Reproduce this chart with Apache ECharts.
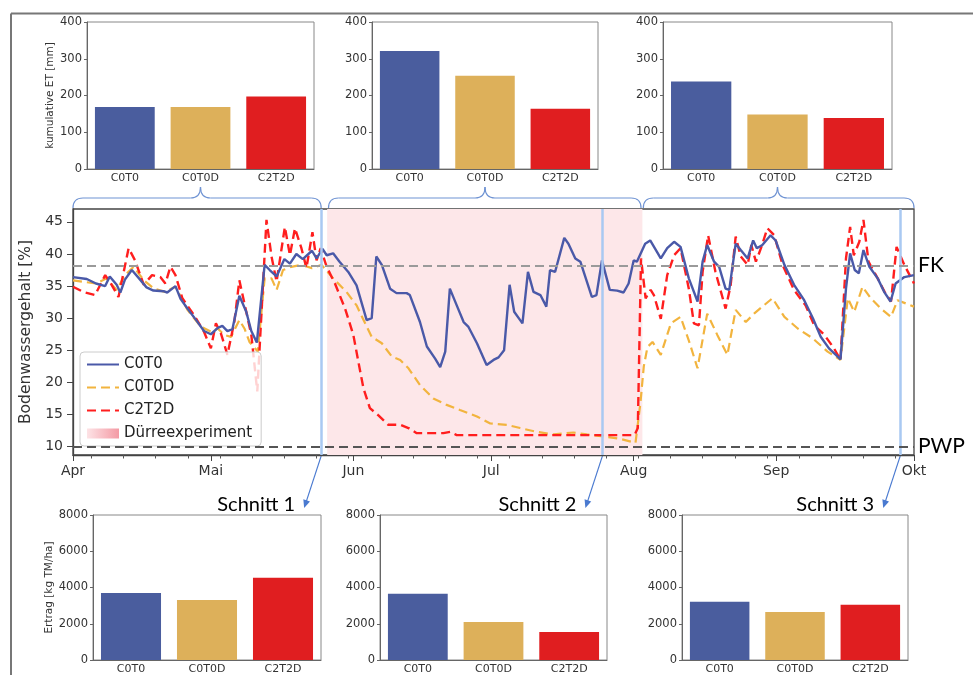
<!DOCTYPE html>
<html><head><meta charset="utf-8">
<script src="https://cdn.jsdelivr.net/npm/echarts@6/dist/echarts.min.js"></script>
<style>html,body{margin:0;padding:0;background:#fff}#c{width:973px;height:675px}</style>
</head><body><div id="c"></div><script>
// ---------- data ----------
const categories = ['C0T0', 'C0T0D', 'C2T2D'];
const etPeriod1 = [169, 169, 197];
const etPeriod2 = [321, 254, 164];
const etPeriod3 = [238, 148, 139];
const yieldCut1 = [3690, 3310, 4540];
const yieldCut2 = [3650, 2090, 1545];
const yieldCut3 = [3220, 2650, 3055];

// days since 1 April (2021)
const c0t0Days = [0,3,5,7,8,9.5,10.3,11.3,12.8,14.6,16,17.5,19.7,20.5,22.3,23.4,24.9,27,28.5,30,31.5,32.5,33.6,34.7,36.2,37.7,38.8,40,41.7,42.8,44.3,46,47.2,48.6,50,52,53,54.3,55.2,56.6,58,59.9,61.7,63.9,65,66,67.2,69,70.4,72.6,73.3,75.5,77,78.8,79.9,81,82,83.5,85,86,87.9,90,91.5,92.6,93.8,95,96,97.3,97.8,99,100.2,101.7,103,103.8,104.9,106.9,107.8,109.3,110.4,112.9,113.9,115.1,116.8,118.4,119.8,120.9,122,122.7,124.5,125.6,127.9,129.3,130.8,132.2,134,135.9,137,138,139.5,140.6,142,142.8,144.2,145.3,146.8,148,148.8,150,151.8,152.9,154.8,156.9,159.1,161,162.7,164.5,166,167,168.2,169.1,170.1,171,172,173.3,175.1,176.5,177.9,179,180.9,183];
const c0t0Vals = [36.4,36.1,35.4,35.0,36.5,35.2,34.0,36.0,37.5,36.0,34.8,34.3,34.2,34.0,35.0,33.0,31.5,29.5,28.0,27.5,28.5,28.8,28.0,28.3,33.5,31.0,28.0,26.2,38.3,37.5,36.5,39.2,38.5,40.0,39.2,40.5,39.3,40.8,39.8,40.1,38.8,37.2,35.1,29.7,30.0,39.6,38.3,34.6,33.9,33.9,33.6,29.4,25.6,23.7,22.4,24.8,34.6,32.0,29.4,28.7,26.1,22.7,23.5,23.9,25.0,35.2,31.0,29.7,29.2,37.2,34.1,33.6,31.8,37.5,37.2,42.5,41.6,39.3,38.8,33.3,33.6,39.0,34.4,34.3,34.0,35.4,39.0,38.8,41.6,42.1,39.3,40.9,41.9,41.1,36.2,32.6,38.8,41.4,38.8,38.0,34.6,34.4,41.6,40.6,39.3,42.1,40.9,41.4,42.9,42.1,38.3,35.2,32.8,30.0,27.1,25.3,24.3,23.6,34.6,40.1,37.5,37.0,40.6,38.0,36.2,34.1,32.6,35.4,36.4,36.7];

const c0t0dDays = [0,3,5,7.3,9.5,11.3,13.2,15.4,17.6,20,22.3,24.9,27.8,30,31.5,32.9,34.4,36.2,37.3,38.4,40.2,41.7,43.2,44.3,45.7,47.5,49.7,52,54.1,56.6,59.5,61.7,63.9,65,67.2,69.4,71.2,73,75.5,78.4,81.3,84.2,87.9,90.8,94.4,97.3,100.9,104.6,108.9,111.8,115.5,119.1,122.4,122.8,123.5,124.2,125,126.1,127.9,130.1,132.2,134.1,135.9,138,140.2,142.4,144.2,146.4,148.2,150,152.2,154.8,157.7,160.9,164.2,167,168.6,170,171.8,173.6,175.8,178,179.4,183];
const c0t0dVals = [35.9,35.6,35.4,36.2,34.4,36.7,38.0,35.9,34.6,34.1,34.9,31.3,28.7,27.9,28.4,27.4,27.1,29.7,28.4,26.3,24.8,36.2,36.2,34.4,37.5,38.0,38.3,37.8,38.3,36.2,34.1,32.0,28.7,27.1,26.1,24.0,23.5,22.2,19.6,17.5,16.5,15.7,14.7,13.6,13.4,12.9,12.3,11.9,12.2,11.9,11.6,11.2,10.6,10.9,17.0,22.5,25.5,26.3,24.3,29.2,30.2,26.3,22.2,30.7,27.4,24.3,31.3,29.4,30.7,31.8,33.1,30.2,28.4,26.9,24.8,23.5,33.1,31.0,34.9,33.1,31.5,30.2,32.8,31.8];

const c2t2dDays = [0,2.2,4.8,7,8.4,9.9,12.1,13.5,15.4,17.2,19,20.1,21.2,22.3,23.8,26.3,28.5,30,31.1,32.2,33.6,35.1,36.2,37.7,38.8,40.1,42.1,43.2,44.3,46.1,47.2,48.3,49.7,50.8,52.1,53,53.9,55.2,57,59.2,61,62.1,63.2,64.6,66.4,68.6,71.2,73,74.8,80.6,82.1,83.5,97.3,111.8,122.2,122.9,123.6,124.6,125.7,126.4,127.9,129.3,130.8,132.2,134,135.1,136.2,137,138.2,139.8,142,143.1,144.2,145.3,146.8,147.6,148.6,149.7,151.1,152.6,154.4,156.9,159.4,161.3,163.5,165.6,167,168.2,169.1,169.9,171.1,172,173.1,175.1,176.6,178,179.2,180.9,183];
const c2t2dVals = [34.9,34.1,33.6,36.7,35.2,33.3,40.9,39.0,35.2,36.7,36.4,35.4,38.0,36.7,33.1,30.5,27.9,25.3,29.2,27.6,24.3,29.4,35.9,31.0,27.4,18.6,45.3,39.6,35.7,44.2,39.8,44.0,40.9,37.8,43.4,39.0,40.9,38.0,35.4,31.5,27.4,23.2,19.1,16.0,14.9,13.4,13.4,12.9,12.1,12.1,12.3,11.8,11.8,11.8,11.8,12.9,39.3,33.1,34.4,33.6,29.9,36.7,39.8,40.9,34.6,29.2,28.9,37.2,42.9,37.2,31.5,35.1,42.7,39.6,38.3,41.4,38.8,40.9,44.0,42.9,38.3,34.4,32.0,28.9,27.4,25.3,23.5,39.3,44.2,39.8,41.9,45.3,38.8,36.2,34.1,32.6,41.1,38.3,35.4];

const monthTickDays = [0, 30, 61, 91, 122, 153, 183];
const monthLabels = ['Apr', 'Mai', 'Jun', 'Jul', 'Aug', 'Sep', 'Okt'];
const weekTickDays = [4,11,18,25,32,39,46,53,60,67,74,81,88,95,102,109,116,123,130,137,144,151,158,165,172,179];
const mainYTicks = [10, 15, 20, 25, 30, 35, 40, 45];
const droughtStart = 55.3, droughtEnd = 123.9;
const schnittDays = [54, 115.2, 180];
const schnittLabels = ['Schnitt 1', 'Schnitt 2', 'Schnitt 3'];
const fkValue = 38.2, pwpValue = 10;

// ---------- styling ----------
const barColors = ['#4a5d9e', '#ddb05a', '#e01e20'];
const axisTxt = { color: '#333', fontFamily: 'DejaVu Sans' };
const zip = (a, b) => a.map((d, i) => [d, b[i]]);

const chart = echarts.init(document.getElementById('c'), null, { renderer: 'canvas' });

const grids = [
  { left: 73, top: 209, width: 841, height: 246 },
  { left: 87, top: 22, width: 227, height: 147 },
  { left: 372, top: 22, width: 226, height: 147 },
  { left: 663, top: 22, width: 229, height: 147 },
  { left: 93, top: 515, width: 228, height: 147 },
  { left: 380, top: 515, width: 227, height: 147 },
  { left: 682, top: 515, width: 226, height: 147 }
];
grids.forEach((g, i) => { g.show = true; g.borderColor = i === 0 ? '#444' : '#888'; g.borderWidth = i === 0 ? 1.3 : 1; g.backgroundColor = 'transparent'; });

const xAxes = [
  { gridIndex: 0, type: 'value', min: 0, max: 183,
    axisLine: { lineStyle: { color: '#444', width: 1.3 } },
    axisTick: { customValues: monthTickDays, length: 6, lineStyle: { color: '#444' } },
    axisLabel: { customValues: monthTickDays, formatter: v => monthLabels[monthTickDays.indexOf(v)], fontSize: 14, margin: 9, ...axisTxt },
    splitLine: { show: false } },
  { gridIndex: 0, type: 'value', min: 0, max: 183, position: 'bottom',
    axisLine: { show: false },
    axisTick: { customValues: weekTickDays, length: 3.5, lineStyle: { color: '#555' } },
    axisLabel: { show: false }, splitLine: { show: false } }
];
const yAxes = [
  { gridIndex: 0, type: 'value', min: 8.7, max: 47,
    name: 'Bodenwassergehalt [%]', nameLocation: 'middle', nameGap: 37,
    nameTextStyle: { fontSize: 15.5, ...axisTxt },
    axisLine: { show: true, lineStyle: { color: '#444', width: 1.3 } },
    axisTick: { show: true, customValues: mainYTicks, length: 6, lineStyle: { color: '#444' } },
    axisLabel: { customValues: mainYTicks, fontSize: 14, margin: 10, ...axisTxt },
    splitLine: { show: false } }
];
for (let k = 1; k <= 6; k++) {
  const top = k <= 3;
  xAxes.push({ gridIndex: k, type: 'category', data: categories,
    axisLine: { lineStyle: { color: '#666' } },
    axisTick: { alignWithLabel: true, length: 3, lineStyle: { color: '#666' } },
    axisLabel: { fontSize: 11, margin: 4, ...axisTxt } });
  const y = { gridIndex: k, type: 'value', min: 0, max: top ? 400 : 8000, interval: top ? 100 : 2000,
    axisLine: { show: true, lineStyle: { color: '#666' } },
    axisTick: { show: true, length: 3, lineStyle: { color: '#666' } },
    axisLabel: { fontSize: 11.5, margin: 5, formatter: v => String(v), ...axisTxt },
    splitLine: { show: false } };
  if (k === 1) { y.name = 'kumulative ET [mm]'; y.nameLocation = 'middle'; y.nameGap = 28; y.nameTextStyle = { fontSize: 10.5, ...axisTxt }; }
  if (k === 4) { y.name = 'Ertrag [kg TM/ha]'; y.nameLocation = 'middle'; y.nameGap = 32; y.nameTextStyle = { fontSize: 10.5, ...axisTxt }; }
  yAxes.push(y);
}

const barSets = [etPeriod1, etPeriod2, etPeriod3, yieldCut1, yieldCut2, yieldCut3];
const barSeries = barSets.map((vals, i) => ({
  type: 'bar', xAxisIndex: i + 2, yAxisIndex: i + 1, data: vals,
  barCategoryGap: '21%', silent: true,
  itemStyle: { color: p => barColors[p.dataIndex] }
}));

const dash = [9, 5];
const option = {
  animation: false,
  backgroundColor: '#fff',
  textStyle: { fontFamily: 'DejaVu Sans' },
  grid: grids, xAxis: xAxes, yAxis: yAxes,
  legend: {
    left: 80, top: 352, orient: 'vertical', itemWidth: 32, itemHeight: 10, itemGap: 8,
    padding: [5, 9, 5, 6],
    backgroundColor: 'rgba(255,255,255,0.8)', borderColor: '#ccc', borderWidth: 1, borderRadius: 4,
    textStyle: { fontSize: 15, color: '#222', fontFamily: 'DejaVu Sans' },
    data: [
      { name: 'C0T0', itemStyle: { opacity: 0 } },
      { name: 'C0T0D', itemStyle: { opacity: 0 } },
      { name: 'C2T2D', itemStyle: { opacity: 0 } },
      { name: 'Dürreexperiment', icon: 'rect',
        itemStyle: { opacity: 1, color: new echarts.graphic.LinearGradient(0, 0, 1, 0, [{ offset: 0, color: '#fde3e6' }, { offset: 1, color: '#f49aa4' }]) } }]
  },
  series: [
    { name: 'Dürreexperiment', type: 'line', xAxisIndex: 0, yAxisIndex: 0, data: [], z: 1,
      color: '#f7b5bc', silent: true,
      markArea: { silent: true, itemStyle: { color: '#fde7e9' }, data: [[{ xAxis: droughtStart }, { xAxis: droughtEnd }]] },
      markLine: { silent: true, symbol: 'none', animation: false,
        data: [
          ...schnittDays.map(d => ({ xAxis: d, lineStyle: { color: '#a9c9f2', width: 2.5, type: 'solid' }, label: { show: false } })),
          { yAxis: fkValue, lineStyle: { color: '#9a9a9a', width: 2.2, type: dash },
            label: { show: true, position: 'end', formatter: 'FK', fontSize: 21, color: '#000', fontFamily: 'Lato', distance: 4 } },
          { yAxis: pwpValue, lineStyle: { color: '#555', width: 2.2, type: dash },
            label: { show: true, position: 'end', formatter: 'PWP', fontSize: 21, color: '#000', fontFamily: 'Lato', distance: 4 } }
        ] } },
    { name: 'C0T0', type: 'line', xAxisIndex: 0, yAxisIndex: 0, data: zip(c0t0Days, c0t0Vals), z: 4,
      symbol: 'none', color: '#4a59a8', lineStyle: { width: 2.4, color: '#4a59a8' } },
    { name: 'C0T0D', type: 'line', xAxisIndex: 0, yAxisIndex: 0, data: zip(c0t0dDays, c0t0dVals), z: 3,
      symbol: 'none', color: '#f2b43e', lineStyle: { width: 2.2, type: dash, color: '#f2b43e' } },
    { name: 'C2T2D', type: 'line', xAxisIndex: 0, yAxisIndex: 0, data: zip(c2t2dDays, c2t2dVals), z: 3,
      symbol: 'none', color: '#ff1e1e', lineStyle: { width: 2.4, type: dash, color: '#ff1e1e' } },
    ...barSeries
  ]
};
chart.setOption(option);

// ---------- decorations (braces, arrows, labels, frame) ----------
const px = (d, v) => chart.convertToPixel({ xAxisIndex: 0, yAxisIndex: 0 }, [d, v]);
const gTop = grids[0].top, gBot = grids[0].top + grids[0].height;
const graphics = [
  { type: 'line', shape: { x1: 11, y1: 13.5, x2: 973, y2: 13.5 }, style: { stroke: '#777', lineWidth: 2 } },
  { type: 'line', shape: { x1: 11, y1: 13.5, x2: 11, y2: 675 }, style: { stroke: '#777', lineWidth: 2 } }
];
const braceStyle = { stroke: '#6f93d3', lineWidth: 1.2, fill: null };
function brace(x1, x2, xm) {
  const yb = gTop - 1, yl = 198, yt = 187;
  return [
    { type: 'bezierCurve', shape: { x1: x1, y1: yb, x2: x1 + 10, y2: yl, cpx1: x1, cpy1: yl }, style: braceStyle },
    { type: 'line', shape: { x1: x1 + 10, y1: yl, x2: xm - 10, y2: yl }, style: braceStyle },
    { type: 'bezierCurve', shape: { x1: xm - 10, y1: yl, x2: xm, y2: yt, cpx1: xm, cpy1: yl }, style: braceStyle },
    { type: 'bezierCurve', shape: { x1: xm, y1: yt, x2: xm + 10, y2: yl, cpx1: xm, cpy1: yl }, style: braceStyle },
    { type: 'line', shape: { x1: xm + 10, y1: yl, x2: x2 - 10, y2: yl }, style: braceStyle },
    { type: 'bezierCurve', shape: { x1: x2 - 10, y1: yl, x2: x2, y2: yb, cpx1: x2, cpy1: yl }, style: braceStyle }
  ];
}
const braceSpans = [[0, schnittDays[0]], [droughtStart + 0.3, droughtEnd - 0.3], [droughtEnd + 0.2, 183]];
braceSpans.forEach((s, i) => {
  const g = grids[i + 1];
  graphics.push(...brace(px(s[0], 20)[0], px(s[1], 20)[0], g.left + g.width / 2));
});
schnittDays.forEach((d, i) => {
  const sx = px(d, 20)[0], sy = gBot + 1;
  const tx = sx - 17, ty = 508;
  const dx = tx - sx, dy = ty - sy, L = Math.hypot(dx, dy), ux = dx / L, uy = dy / L;
  graphics.push({ type: 'line', shape: { x1: sx, y1: sy, x2: tx - ux * 5, y2: ty - uy * 5 }, style: { stroke: '#4a7ad0', lineWidth: 1.1 } });
  graphics.push({ type: 'polygon', shape: { points: [[tx, ty], [tx - ux * 8 + uy * 3.5, ty - uy * 8 - ux * 3.5], [tx - ux * 8 - uy * 3.5, ty - uy * 8 + ux * 3.5]] }, style: { fill: '#4a7ad0' } });
  graphics.push({ type: 'text', x: tx - 9, y: 505, style: { text: schnittLabels[i], font: '20px Lato', fill: '#000', textAlign: 'right', textVerticalAlign: 'middle' } });
});
chart.setOption({ graphic: graphics });
</script></body></html>
